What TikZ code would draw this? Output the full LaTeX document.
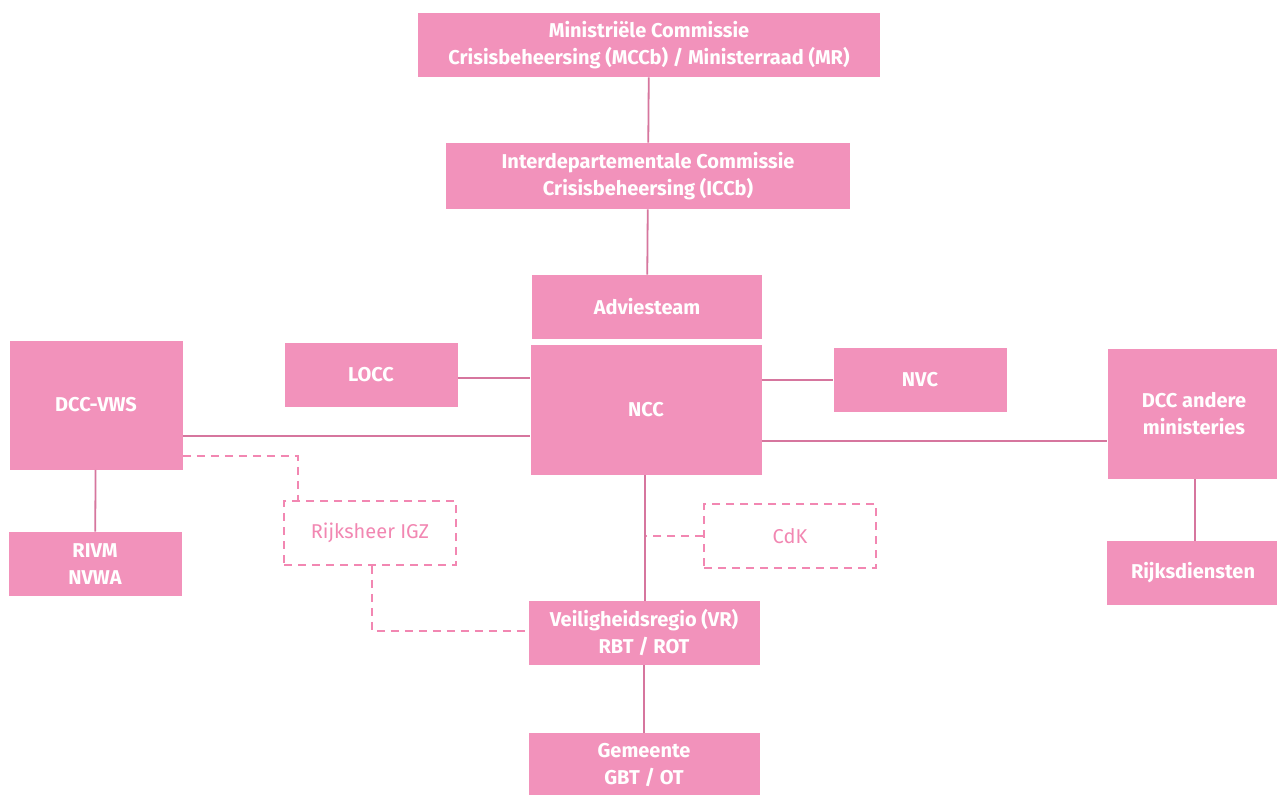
\documentclass[tikz,border=0pt]{standalone}
\usepackage{fontspec}
\setmainfont{Fira Sans}
\usepackage{xcolor}
\usetikzlibrary{calc}
\definecolor{roze}{RGB}{242,146,187}
\definecolor{rozelijn}{RGB}{214,118,158}
\definecolor{rozestip}{RGB}{242,135,178}
\tikzstyle{blok}=[fill=roze,text=white,font={\fontsize{10}{13.5}\selectfont\bfseries},align=center,inner sep=0pt,minimum width=86.5pt,minimum height=32pt]
\tikzstyle{stipblok}=[draw=rozestip,dash pattern=on 4pt off 3pt,line width=0.9pt,text=rozestip,align=center,inner sep=0pt,minimum width=86pt,minimum height=32pt]
\tikzstyle{lijn}=[draw=rozelijn,line width=0.9pt]
\tikzstyle{stiplijn}=[draw=rozestip,line width=0.9pt,dash pattern=on 4pt off 3pt]

\begin{document}
\begin{tikzpicture}[x=0.5pt,y=-0.5pt]
    \fill[white] (0,0) rectangle (1277,794);
    \useasboundingbox (0,0) rectangle (1277,794);
    \node[blok,minimum width=231pt] (mccb) at (649,45) {Ministriële Commissie\\Crisisbeheersing (MCCb) / Ministerraad (MR)};
    \node[blok,minimum width=202pt,minimum height=33pt] (iccb) at (648,176) {Interdepartementale Commissie\\Crisisbeheersing (ICCb)};
    \node[blok,minimum width=115pt] (advies) at (647,307) {Adviesteam};
    \node[blok,minimum width=115.5pt,minimum height=65pt] (ncc) at (646,410) {NCC};
    \node[blok] (locc) at (371,375) {LOCC};
    \node[blok] (nvc) at (920,380) {NVC};
    \node[blok,minimum height=64.5pt] (vws) at (96,405) {DCC-VWS};
    \node[blok] (rivm) at (95,564) {RIVM\\NVWA};
    \node[blok,minimum height=65pt] (andere) at (1194,414) {DCC andere\\ministeries};
    \node[blok] (rijks) at (1193,573) {Rijksdiensten};
    \node[stipblok] (igz) at (370,533) {Rijksheer IGZ};
    \node[stipblok] (cdk) at (790,536) {CdK};
    \node[blok,minimum width=115.5pt] (vr) at (644,633) {Veiligheidsregio (VR)\\RBT / ROT};
    \node[blok,minimum width=115.5pt] (gem) at (644,765) {Gemeente\\GBT / OT};

    \draw[lijn] (mccb) -- (iccb);
    \draw[lijn] (iccb) -- (advies);
    \draw[lijn] (locc.east |- 0,378) -- (ncc.west |- 0,378);
    \draw[lijn] (ncc.east |- nvc.west) -- (nvc.west);
    \draw[lijn] (vws.east |- 0,436) -- (ncc.west |- 0,436);
    \draw[lijn] (ncc.east |- 0,441) -- (andere.west |- 0,441);
    \draw[lijn] (vws) -- (rivm);
    \draw[lijn] (andere.south -| 1195,0) -- (rijks.north -| 1195,0);
    \draw[lijn] (ncc.south -| 645,0) -- (vr.north -| 645,0);
    \draw[lijn] (vr) -- (gem);
    \draw[stiplijn] (vws.east |- 0,456) -| (igz.north -| 298,0);
    \draw[stiplijn] (igz.south -| 372,0) |- (vr.west |- 0,631);
    \draw[stiplijn] (cdk.west) -- (cdk.west -| ncc.south);
\end{tikzpicture}
\end{document}
